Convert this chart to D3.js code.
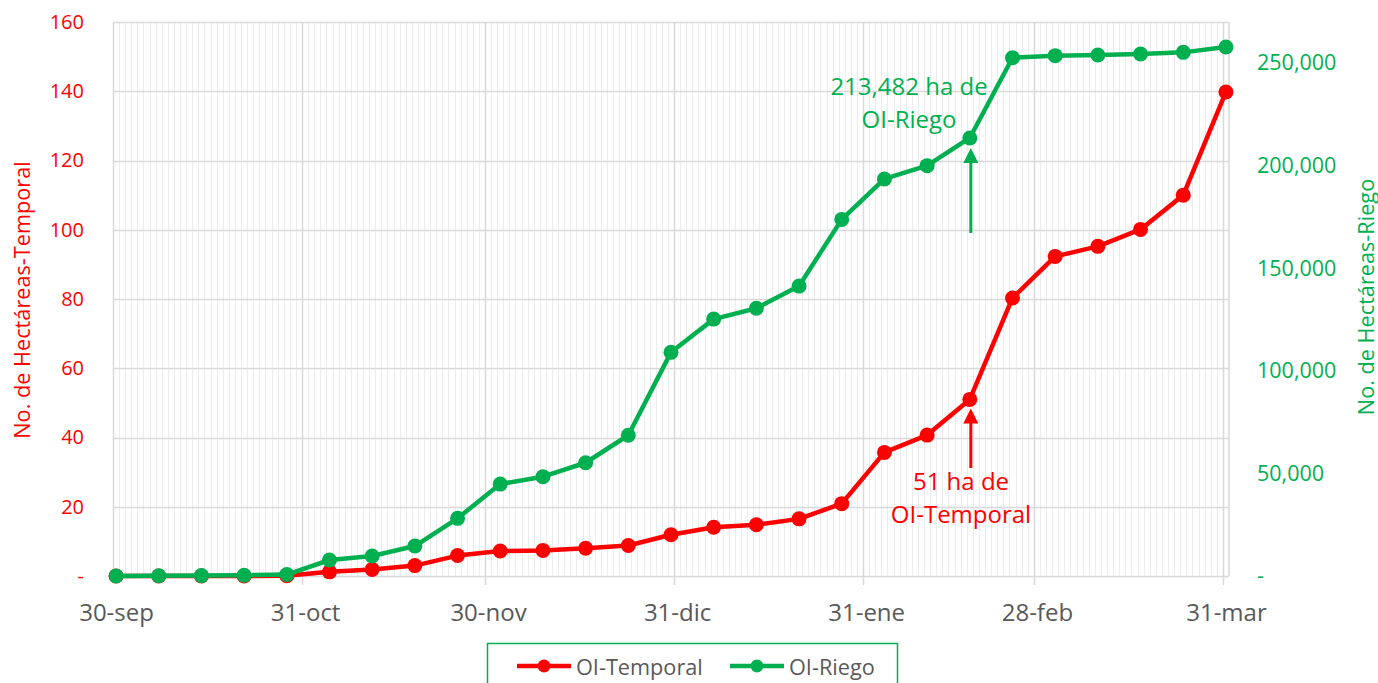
<!DOCTYPE html>
<html><head><meta charset="utf-8">
<script src="https://cdn.jsdelivr.net/npm/d3@7"></script>
<style>body{margin:0;background:#fff;} svg text{font-family:"Open Sans",sans-serif;}</style>
</head><body><svg id="c" width="1378" height="683"></svg>
<script>
const dates = ["2018-09-30","2018-10-07","2018-10-14","2018-10-21","2018-10-28","2018-11-04","2018-11-11","2018-11-18","2018-11-25","2018-12-02","2018-12-09","2018-12-16","2018-12-23","2018-12-30","2019-01-06","2019-01-13","2019-01-20","2019-01-27","2019-02-03","2019-02-10","2019-02-17","2019-02-24","2019-03-03","2019-03-10","2019-03-17","2019-03-24","2019-03-31"];
const temporal = [0,0,0,0,0.1,1.2,1.9,3.0,5.9,7.2,7.4,8.0,8.8,11.9,14.1,14.8,16.5,20.9,35.7,40.7,51,80.3,92.3,95.2,100.1,110.0,139.8];
const riego = [0,100,200,400,700,7800,9750,14600,28100,44800,48400,55200,68600,109000,125200,130500,141300,173800,193500,200000,213482,252600,253600,253900,254400,255200,257800];
const xTickDates = ["2018-09-30","2018-10-31","2018-11-30","2018-12-31","2019-01-31","2019-02-28","2019-03-31"];
const xTickLabels = ["30-sep","31-oct","30-nov","31-dic","31-ene","28-feb","31-mar"];
const leftTicks = [0,20,40,60,80,100,120,140,160];
const rightTicks = [0,50000,100000,150000,200000,250000];
const seriesNames = ["OI-Temporal","OI-Riego"];
const annRiego = ["213,482 ha de","OI-Riego"];
const annTemporal = ["51 ha de","OI-Temporal"];

const RED = "#FF0000", GREEN = "#00B050", GREY = "#595959";
const P = d => new Date(d + "T00:00:00Z");
const HALF = 12*3600*1000;
const svg = d3.select("#c");
const L = 113, R = 1229, T = 22, B = 576;

const x = d3.scaleUtc().domain([P("2018-09-30"), P("2019-04-01")]).range([L, R]);
const yL = d3.scaleLinear().domain([0,160]).range([B, T]);
const yR = d3.scaleLinear().domain([0,270000]).range([B, T]);
const xc = d => x(new Date(P(d).getTime() + HALF));

// minor daily gridlines
const days = d3.utcDay.range(P("2018-09-30"), P("2019-04-01"));
svg.append("g").selectAll("line").data(days).join("line")
  .attr("x1", d => Math.round(x(d))+0.5).attr("x2", d => Math.round(x(d))+0.5)
  .attr("y1", T).attr("y2", B).attr("stroke", "#ececec").attr("stroke-width", 1);

// horizontal gridlines
svg.append("g").selectAll("line").data(leftTicks).join("line")
  .attr("x1", L).attr("x2", R)
  .attr("y1", d => Math.round(yL(d))+0.5).attr("y2", d => Math.round(yL(d))+0.5)
  .attr("stroke", "#d9d9d9").attr("stroke-width", 1.5);

// major vertical gridlines (month)
svg.append("g").selectAll("line").data(xTickDates).join("line")
  .attr("x1", d => Math.round(x(P(d)))+0.5).attr("x2", d => Math.round(x(P(d)))+0.5)
  .attr("y1", T).attr("y2", (d,i) => i === 0 ? B : B + 9)
  .attr("stroke", "#d9d9d9").attr("stroke-width", 1.5);
svg.append("line").attr("x1", R).attr("x2", R).attr("y1", T).attr("y2", B)
  .attr("stroke", "#d9d9d9").attr("stroke-width", 1.5);

// x tick labels via axis
const xAxis = d3.axisBottom(x).tickValues(xTickDates.map(d => new Date(P(d).getTime()+HALF)))
  .tickFormat((d,i) => xTickLabels[i]).tickSize(0).tickPadding(0);
const gx = svg.append("g").attr("transform", `translate(0,${B})`).call(xAxis);
gx.select(".domain").remove();
gx.selectAll("text").attr("fill", GREY).attr("font-size", 24).attr("dy", null).attr("y", 44.5);

// left axis
const gl = svg.append("g").attr("transform", `translate(${L},0)`)
  .call(d3.axisLeft(yL).tickValues(leftTicks).tickFormat(d => d === 0 ? "-" : d).tickSize(0).tickPadding(29));
gl.select(".domain").remove();
gl.selectAll("text").attr("fill", RED).attr("font-size", 20);

// right axis
const gr = svg.append("g").attr("transform", `translate(${R},0)`)
  .call(d3.axisRight(yR).tickValues(rightTicks).tickFormat(d => d === 0 ? "-" : d3.format(",")(d)).tickSize(0).tickPadding(28));
gr.select(".domain").remove();
gr.selectAll("text").attr("fill", GREEN).attr("font-size", 21.5);

// axis titles
svg.append("text").attr("transform", "translate(21,300) rotate(-90)")
  .attr("text-anchor", "middle").attr("dominant-baseline", "central")
  .attr("fill", RED).attr("font-size", 21.7).text("No. de Hectáreas-Temporal");
svg.append("text").attr("transform", "translate(1365,297) rotate(-90)")
  .attr("text-anchor", "middle").attr("dominant-baseline", "central")
  .attr("fill", GREEN).attr("font-size", 21.7).text("No. de Hectáreas-Riego");

// series
function drawSeries(vals, y, color) {
  const line = d3.line().x((d,i) => xc(dates[i])).y(d => y(d));
  svg.append("path").datum(vals).attr("d", line).attr("fill", "none")
    .attr("stroke", color).attr("stroke-width", 4.5).attr("stroke-linejoin", "round");
  svg.append("g").selectAll("circle").data(vals).join("circle")
    .attr("cx", (d,i) => xc(dates[i])).attr("cy", d => y(d)).attr("r", 7.5).attr("fill", color);
}
drawSeries(temporal, yL, RED);
drawSeries(riego, yR, GREEN);

// annotations with arrows
function arrow(xp, yTip, yTail, color) {
  svg.append("line").attr("x1", xp).attr("x2", xp).attr("y1", yTail).attr("y2", yTip + 12)
    .attr("stroke", color).attr("stroke-width", 3);
  svg.append("path").attr("d", `M${xp},${yTip} L${xp-7.5},${yTip+15} L${xp+7.5},${yTip+15} Z`).attr("fill", color);
}
const iAnn = 20;
const ax = xc(dates[iAnn]) + 1;
arrow(ax, yR(riego[iAnn]) + 10, 233, GREEN);
arrow(ax, yL(temporal[iAnn]) + 9, 468, RED);

function annText(lines, cx, cy0, color) {
  svg.append("g").selectAll("text").data(lines).join("text")
    .attr("x", cx).attr("y", (d,i) => cy0 + i*33).attr("text-anchor", "middle")
    .attr("dominant-baseline", "central").attr("fill", color).attr("font-size", 24).text(d => d);
}
annText(annRiego, 909, 85, GREEN);
annText(annTemporal, 961, 480, RED);

// legend
svg.append("rect").attr("x", 487.5).attr("y", 643.5).attr("width", 410).attr("height", 60)
  .attr("fill", "#fff").attr("stroke", GREEN).attr("stroke-width", 1.5);
const leg = [{name: seriesNames[0], color: RED, x0: 517}, {name: seriesNames[1], color: GREEN, x0: 730}];
leg.forEach(l => {
  svg.append("line").attr("x1", l.x0).attr("x2", l.x0 + 54).attr("y1", 666).attr("y2", 666)
    .attr("stroke", l.color).attr("stroke-width", 4.5);
  svg.append("circle").attr("cx", l.x0 + 27).attr("cy", 666).attr("r", 6.5).attr("fill", l.color);
  svg.append("text").attr("x", l.x0 + 59).attr("y", 666).attr("dominant-baseline", "central")
    .attr("fill", GREY).attr("font-size", 21.7).text(l.name);
});
</script></body></html>
